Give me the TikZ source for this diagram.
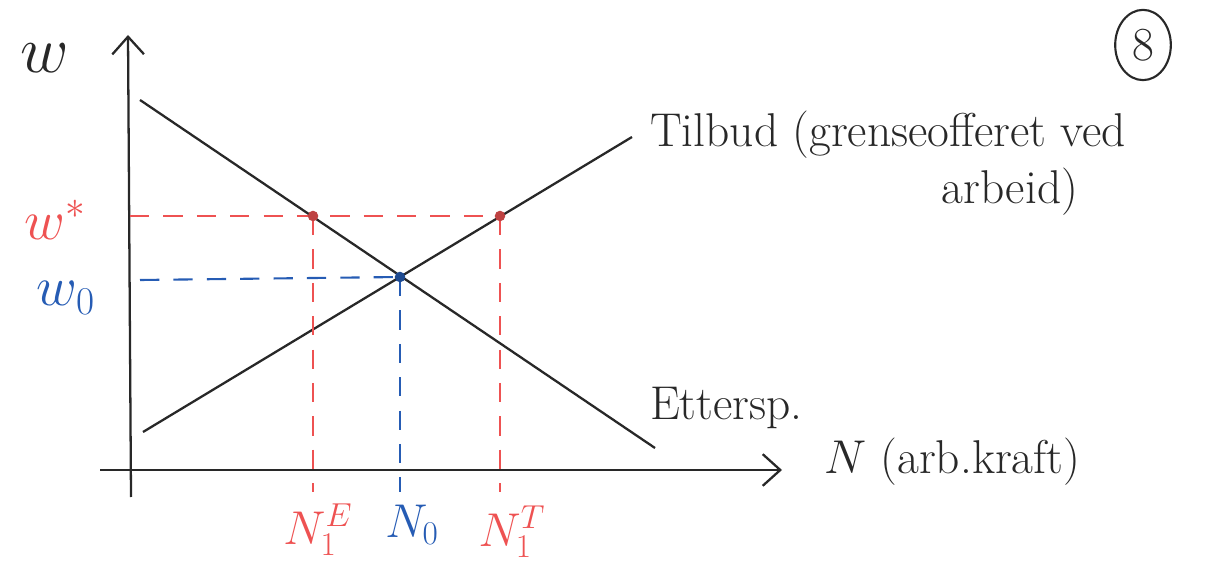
\RequirePackage{fix-cm}
\documentclass[tikz,border=0pt]{standalone}
\usepackage{amsmath}
\usepackage{xcolor}
\usetikzlibrary{arrows.meta,calc,positioning,shapes.geometric}
\definecolor{PenRed}{RGB}{238,82,82}
\definecolor{PenBlue}{RGB}{38,92,180}
\definecolor{PenBlack}{RGB}{40,40,40}
\tikzset{
	curve/.style={PenBlack, line width=1.3pt},
	guide/.style={line width=1.2pt, dash pattern=on 11pt off 8pt},
	lbl/.style={font=\fontsize{27}{31}\selectfont, inner sep=1pt},
	biglbl/.style={font=\fontsize{38}{42}\selectfont, inner sep=1pt},
	midlbl/.style={font=\fontsize{32}{36}\selectfont, inner sep=0pt}
}

\begin{document}
\begin{tikzpicture}[x=0.02cm, y=-0.02cm]
		\useasboundingbox (0,0) rectangle (1222,573);
		% axes
		\coordinate (O) at (130,470);
		\coordinate (Wtop) at (128,35);
		\coordinate (Wbot) at (131,497);
		\coordinate (Nleft) at (100,470);
		\coordinate (Nright) at (782,470);
		\draw[curve, -{Straight Barb[length=10pt, width=18pt]}] (Wbot)--(Wtop);
		\draw[curve, -{Straight Barb[length=10pt, width=18pt]}] (Nleft)--(Nright);
		% curves
		\coordinate (D1) at (140,100);
		\coordinate (D2) at (655,448);
		\coordinate (S1) at (143,432);
		\coordinate (S2) at (632,137);
		\coordinate (E0) at (400,277);
		\coordinate (EE) at (313,216);
		\coordinate (ET) at (500,216);
		\draw[curve] (D1)--(D2);
		\draw[curve] (S1)--(S2);
		% guide lines
		\draw[guide, PenRed] (O |- EE)--(ET);
		\draw[guide, PenRed] (EE)--(EE |- 0,492);
		\draw[guide, PenRed] (ET)--(ET |- 0,492);
		\draw[guide, PenBlue] (140,280)--(E0);
		\draw[guide, PenBlue] (E0)--(E0 |- 0,492);
		\fill[PenRed!80!black] (EE) circle (3pt);
		\fill[PenRed!80!black] (ET) circle (3pt);
		\fill[PenBlue!80!black] (E0) circle (3pt);
		% labels
		\node[biglbl, PenBlack] (w) at (45,58) {$w$};
		\node[midlbl, PenRed] (wstar) at (55,220) {$w^{*}$};
		\node[midlbl, PenBlue] (wnull) at (66,298) {$w_{0}$};
		\node[lbl, PenRed] (NE) at (318,530) {$N_{1}^{E}$};
		\node[lbl, PenBlue] (Nnull) at (412,525) {$N_{0}$};
		\node[lbl, PenRed] (NT) at (512,532) {$N_{1}^{T}$};
		\node[lbl, PenBlack, anchor=west] (tilbud) at (648,135) {Tilbud (grenseofferet ved};
		\node[lbl, PenBlack] (arbeid) at (1010,192) {arbeid)};
		\node[lbl, PenBlack, anchor=west] (ettersp) at (648,408) {Ettersp.};
		\node[lbl, PenBlack, anchor=west] (Nlab) at (822,462) {$N$ (arb.kraft)};
		\node[lbl, PenBlack, draw, ellipse, line width=1.2pt, inner sep=5pt] (fig) at (1143,45) {8};
	\end{tikzpicture}
\end{document}
